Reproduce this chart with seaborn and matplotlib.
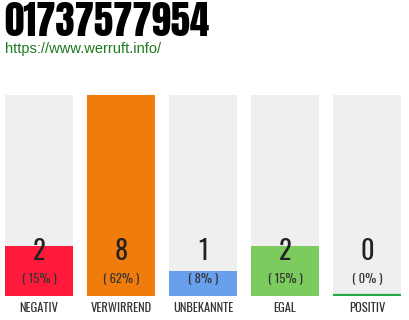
import matplotlib
matplotlib.use("Agg")
import matplotlib.pyplot as plt
import seaborn as sns
import pandas as pd

title = "01737577954"
url = "https://www.werruft.info/"
categories = ["NEGATIV", "VERWIRREND", "UNBEKANNTE", "EGAL", "POSITIV"]
counts = [2, 8, 1, 2, 0]
percents = ["( 15% )", "( 62% )", "( 8% )", "( 15% )", "( 0% )"]
colors = ["#FF1A3C", "#F07D0B", "#68A0EE", "#7CCB5E", "#22AA44"]
bg_color = "#EFEFEF"

sns.set_theme(style="white")
cond = ["Oswald", "DejaVu Sans"]
plt.rcParams["font.family"] = cond

fig = plt.figure(figsize=(4.1, 3.2), dpi=100)
step = 82.0
left = -39.0 / step
ax = fig.add_axes([0, 24 / 320, 1, 201 / 320])

df = pd.DataFrame({"cat": categories, "count": counts, "max": [max(counts)] * len(counts)})
width = 68.0 / step
sns.barplot(data=df, x="cat", y="max", color=bg_color, width=width, ax=ax,
            saturation=1, edgecolor="none")
sns.barplot(data=df, x="cat", y="count", hue="cat", palette=colors, width=width,
            ax=ax, saturation=1, legend=False, edgecolor="none")

ax.set_xlim(left, left + 410 / step)
ax.set_ylim(0, max(counts))
for s in ax.spines.values():
    s.set_visible(False)
ax.set_xlabel("")
ax.set_ylabel("")
ax.set_yticks([])
ax.set_xticks([])

ypix = lambda py: (296 - py) / 201 * max(counts)
for i, (c, p, cat) in enumerate(zip(counts, percents, categories)):
    if c == 0:
        ax.plot([i - width / 2, i + width / 2], [0.03, 0.03], color=colors[i], lw=1.6,
                solid_capstyle="butt")
    ax.text(i, ypix(252), str(c), ha="center", va="center", fontsize=19,
            color="#222222")
    ax.text(i, ypix(278), p, ha="center", va="center", fontsize=9, color="#333333")
    ax.text(i, ypix(308), cat, ha="center", va="center", fontsize=9, color="#333333",
            clip_on=False)

fig.text(4 / 410, 1 - 22 / 320, title, ha="left", va="center", fontsize=28,
         color="#000000", family=["Anton", "Oswald", "DejaVu Sans"])
fig.text(5 / 410, 1 - 49 / 320, url, ha="left", va="center", fontsize=10.5,
         color="#1E7A1E", family=["Liberation Sans", "DejaVu Sans"])

fig.savefig("out.png", dpi=100)
